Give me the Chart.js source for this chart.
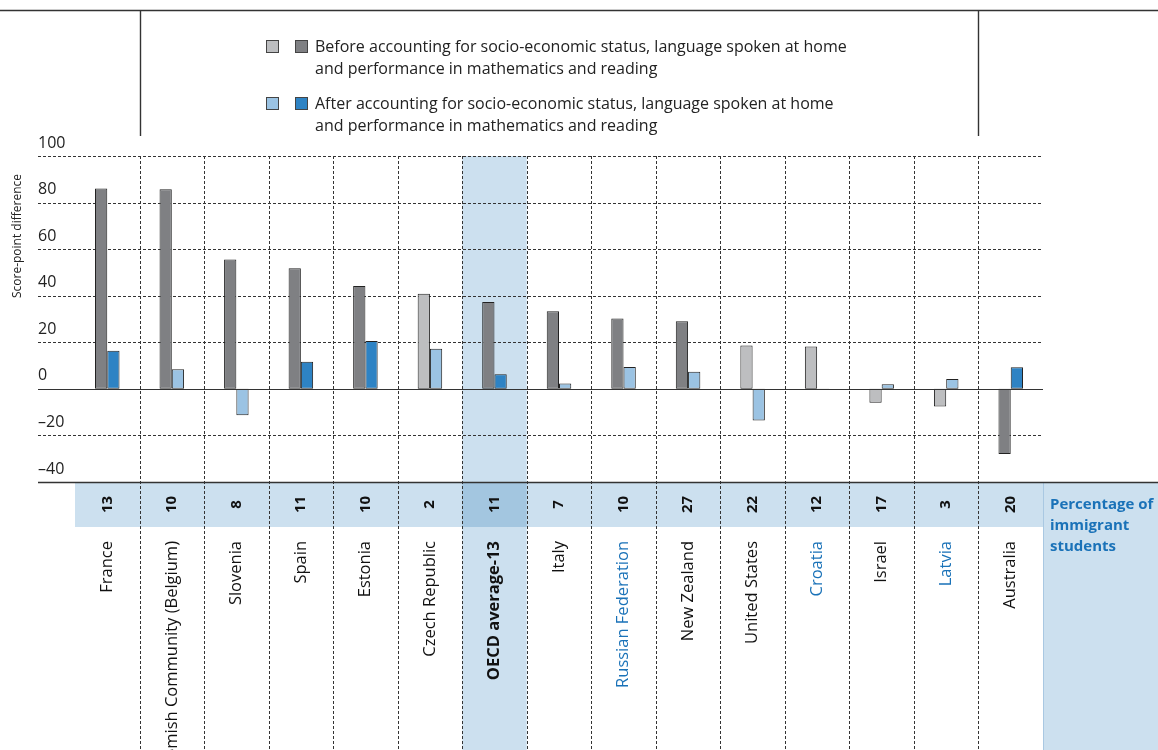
<!DOCTYPE html>
<html>
<head>
<meta charset="utf-8">
<script src="https://cdn.jsdelivr.net/npm/chart.js@4.4.1/dist/chart.umd.min.js"></script>
<style>
    html, body { margin: 0; padding: 0; background: #fff; }
    #wrap { position: relative; width: 1158px; height: 750px; }
</style>
</head>
<body>
<div id="wrap"><canvas id="chart"></canvas></div>
<script>
// chart values
const countries = ['France', 'Flemish Community (Belgium)', 'Slovenia', 'Spain', 'Estonia', 'Czech Republic',
    'OECD average-13', 'Italy', 'Russian Federation', 'New Zealand', 'United States', 'Croatia', 'Israel',
    'Latvia', 'Australia'];
const beforeValues = [86, 85.7, 55.6, 51.8, 44.2, 40.8, 37.3, 33.3, 30.2, 29, 18.6, 18.2, -6, -7.6, -28];
const afterValues = [16.4, 8.4, -11.3, 11.6, 20.5, 17.2, 6.3, 2.3, 9.4, 7.4, -13.6, -0.4, 2, 4.2, 9.3];
// 1 = statistically significant (darker shade)
const beforeSignificant = [1, 1, 1, 1, 1, 0, 1, 1, 1, 1, 0, 0, 0, 0, 1];
const afterSignificant = [1, 0, 0, 1, 1, 0, 1, 0, 0, 0, 0, 0, 0, 0, 1];
const immigrantShare = [13, 10, 8, 11, 10, 2, 11, 7, 10, 27, 22, 12, 17, 3, 20];
const partnerCountries = ['Russian Federation', 'Croatia', 'Latvia'];
const averageLabel = 'OECD average-13';
const yTicks = [100, 80, 60, 40, 20, 0, -20, -40];

const FONT = '"Open Sans", Lato, sans-serif';
const GREY_LIGHT = '#bdbec0';
const GREY_DARK = '#7f8083';
const BLUE_LIGHT = '#9bc3e3';
const BLUE_DARK = '#2e83c4';
const TABLE_BG = '#cce0ef';
const TABLE_HL = '#a3c6e0';
const TEXT_BLUE = '#1a72b8';

const legendItems = [
    { colors: [GREY_LIGHT, GREY_DARK], lines: ['Before accounting for socio-economic status, language spoken at home', 'and performance in mathematics and reading'] },
    { colors: [BLUE_LIGHT, BLUE_DARK], lines: ['After accounting for socio-economic status, language spoken at home', 'and performance in mathematics and reading'] }
];

function fmtTick(v) {
    return v < 0 ? '\u2013' + Math.abs(v) : String(v);
}

const backdrop = {
    id: 'backdrop',
    beforeDatasetsDraw(chart) {
        const ctx = chart.ctx;
        const area = chart.chartArea;
        const x = chart.scales.x;
        const y = chart.scales.y;
        const colW = (area.right - area.left) / countries.length;
        const yTop = y.getPixelForValue(100);
        const yBottom = y.getPixelForValue(-40);
        const rowH = 45;

        ctx.save();
        // table row
        ctx.fillStyle = TABLE_BG;
        ctx.fillRect(area.left, yBottom, area.right - area.left, rowH);
        // percentage caption cell
        ctx.fillRect(area.right, yBottom, chart.width - area.right, chart.height - yBottom);
        ctx.strokeStyle = '#a9c8e2';
        ctx.lineWidth = 1;
        ctx.beginPath();
        ctx.moveTo(area.right + 0.5, yBottom);
        ctx.lineTo(area.right + 0.5, chart.height);
        ctx.stroke();

        // highlighted average column
        const avgIdx = countries.indexOf(averageLabel);
        const ax = x.getPixelForValue(avgIdx) - colW / 2;
        ctx.fillStyle = TABLE_BG;
        ctx.fillRect(ax, yTop, colW, chart.height - yTop);
        ctx.fillStyle = TABLE_HL;
        ctx.fillRect(ax, yBottom, colW, rowH);

        // horizontal dashed grid
        ctx.strokeStyle = '#333';
        ctx.setLineDash([3, 2]);
        yTicks.forEach(function (v) {
            if (v === 0 || v === -40) return;
            const py = Math.round(y.getPixelForValue(v)) + 0.5;
            ctx.beginPath();
            ctx.moveTo(38, py);
            ctx.lineTo(area.right, py);
            ctx.stroke();
        });
        // vertical dashed separators
        for (let i = 1; i < countries.length; i++) {
            const px = Math.round(x.getPixelForValue(i) - colW / 2) + 0.5;
            ctx.beginPath();
            ctx.moveTo(px, yTop);
            ctx.lineTo(px, chart.height);
            ctx.stroke();
        }
        ctx.setLineDash([]);

        // y tick labels
        ctx.fillStyle = '#222';
        ctx.font = '16px ' + FONT;
        ctx.textAlign = 'left';
        ctx.textBaseline = 'middle';
        yTicks.forEach(function (v) {
            ctx.fillText(fmtTick(v), 38, y.getPixelForValue(v) - 13);
        });

        // y axis title
        ctx.save();
        ctx.translate(18, 236);
        ctx.rotate(-Math.PI / 2);
        ctx.textAlign = 'center';
        ctx.font = '12px ' + FONT;
        ctx.fillText('Score-point difference', 0, 0);
        ctx.restore();

        // percentages and country names
        countries.forEach(function (name, i) {
            const cx = x.getPixelForValue(i);
            ctx.save();
            ctx.translate(cx, yBottom + rowH / 2);
            ctx.rotate(-Math.PI / 2);
            ctx.textAlign = 'center';
            ctx.fillStyle = '#111';
            ctx.font = 'bold 15px ' + FONT;
            ctx.fillText(String(immigrantShare[i]), 0, 0);
            ctx.restore();

            ctx.save();
            ctx.translate(cx, yBottom + rowH + 14);
            ctx.rotate(-Math.PI / 2);
            ctx.textAlign = 'right';
            ctx.fillStyle = partnerCountries.includes(name) ? TEXT_BLUE : '#111';
            ctx.font = (name === averageLabel ? 'bold ' : '') + '16.5px ' + FONT;
            ctx.fillText(name, 0, 0);
            ctx.restore();
        });

        // caption for the table row
        ctx.fillStyle = TEXT_BLUE;
        ctx.font = 'bold 15px ' + FONT;
        ctx.textAlign = 'left';
        ['Percentage of', 'immigrant', 'students'].forEach(function (t, k) {
            ctx.fillText(t, area.right + 7, yBottom + 23 + k * 21);
        });
        ctx.restore();
    },
    afterDatasetsDraw(chart) {
        const ctx = chart.ctx;
        const area = chart.chartArea;
        const x = chart.scales.x;
        const y = chart.scales.y;
        const colW = (area.right - area.left) / countries.length;

        ctx.save();
        ctx.strokeStyle = '#333';
        ctx.lineWidth = 1.2;
        // zero line
        const y0 = Math.round(y.getPixelForValue(0)) + 0.5;
        ctx.beginPath();
        ctx.moveTo(38, y0);
        ctx.lineTo(area.right, y0);
        ctx.stroke();
        // bottom line
        const yb = Math.round(y.getPixelForValue(-40)) + 0.5;
        ctx.lineWidth = 1.6;
        ctx.beginPath();
        ctx.moveTo(38, yb);
        ctx.lineTo(chart.width, yb);
        ctx.stroke();

        // top frame around legend
        ctx.lineWidth = 1.4;
        ctx.beginPath();
        ctx.moveTo(0, 10.5);
        ctx.lineTo(chart.width, 10.5);
        const lx = Math.round(x.getPixelForValue(1) - colW / 2) + 0.5;
        const rx = Math.round(x.getPixelForValue(countries.length - 1) - colW / 2) + 0.5;
        ctx.moveTo(lx, 10);
        ctx.lineTo(lx, 136);
        ctx.moveTo(rx, 10);
        ctx.lineTo(rx, 136);
        ctx.stroke();

        // legend
        ctx.font = '16px ' + FONT;
        ctx.textAlign = 'left';
        ctx.textBaseline = 'middle';
        legendItems.forEach(function (item, k) {
            const top = 40 + k * 57;
            item.colors.forEach(function (c, j) {
                ctx.fillStyle = c;
                ctx.fillRect(266 + j * 29, top, 13, 13);
                ctx.lineWidth = 1;
                ctx.strokeStyle = '#444';
                ctx.strokeRect(266.5 + j * 29, top + 0.5, 12, 12);
            });
            ctx.fillStyle = '#222';
            item.lines.forEach(function (t, n) {
                ctx.fillText(t, 315, top + 7 + n * 22);
            });
        });
        ctx.restore();
    }
};

new Chart(document.getElementById('chart'), {
    type: 'bar',
    data: {
        labels: countries,
        datasets: [
            {
                label: 'Before accounting',
                data: beforeValues,
                backgroundColor: beforeSignificant.map(s => s ? GREY_DARK : GREY_LIGHT),
                borderColor: '#222',
                borderWidth: 1,
                borderSkipped: false,
                categoryPercentage: 0.38,
                barPercentage: 1
            },
            {
                label: 'After accounting',
                data: afterValues,
                backgroundColor: afterSignificant.map(s => s ? BLUE_DARK : BLUE_LIGHT),
                borderColor: '#222',
                borderWidth: 1,
                borderSkipped: false,
                categoryPercentage: 0.38,
                barPercentage: 1
            }
        ]
    },
    options: {
        responsive: true,
        maintainAspectRatio: false,
        animation: false,
        layout: {
            padding: { left: 75, right: 115, top: 156, bottom: 268 }
        },
        scales: {
            x: { display: false },
            y: { display: false, min: -40, max: 100 }
        },
        plugins: {
            legend: { display: false },
            tooltip: { enabled: false }
        }
    },
    plugins: [backdrop]
});
</script>
</body>
</html>
